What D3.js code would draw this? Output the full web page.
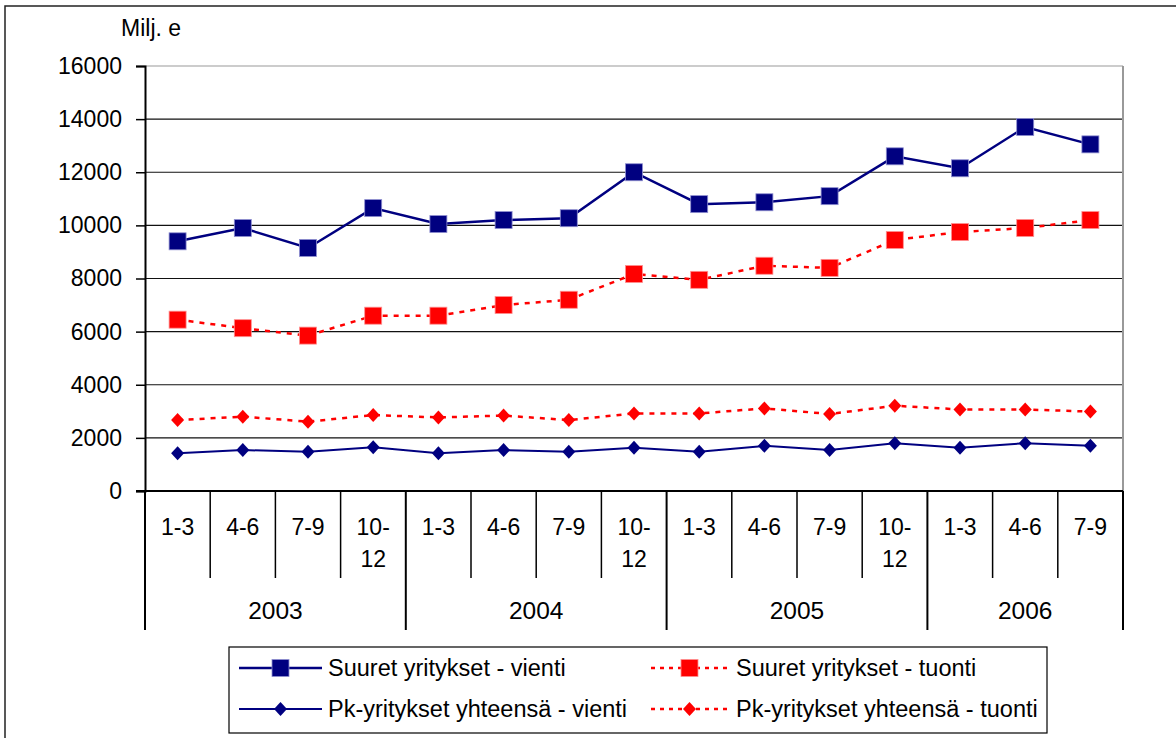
<!DOCTYPE html>
<html><head><meta charset="utf-8">
<script src="https://cdn.jsdelivr.net/npm/d3@7"></script>
<style>
html,body{margin:0;padding:0;background:#fff;}
svg{display:block;font-family:"Liberation Sans",Arial,sans-serif;}
</style></head>
<body><svg id="c" width="1176" height="738"></svg>
<script>
const years = ["2003","2004","2005","2006"];
const quarters = ["1-3","4-6","7-9","10-12","1-3","4-6","7-9","10-12","1-3","4-6","7-9","10-12","1-3","4-6","7-9"];
const quarterYear = [0,0,0,0,1,1,1,1,2,2,2,2,3,3,3];
const suuretVienti = [9400,9900,9150,10650,10050,10200,10270,12000,10800,10870,11100,12600,12150,13700,13050];
const suuretTuonti = [6450,6130,5850,6600,6600,7000,7200,8170,7950,8480,8400,9450,9750,9900,10200];
const pkVienti = [1420,1540,1480,1650,1420,1540,1480,1630,1480,1700,1540,1800,1630,1800,1700];
const pkTuonti = [2670,2800,2610,2860,2770,2840,2670,2920,2920,3110,2900,3210,3070,3070,2990];
const yTicks = [0,2000,4000,6000,8000,10000,12000,14000,16000];
const seriesNames = ["Suuret yritykset - vienti","Suuret yritykset - tuonti","Pk-yritykset yhteensä - vienti","Pk-yritykset yhteensä - tuonti"];

const svg = d3.select("#c");
const L=145, R=1123, T=66, B=491;
const idx = d3.range(quarters.length);
const x = d3.scaleBand().domain(idx).range([L,R]).padding(0);
const y = d3.scaleLinear().domain([0,16000]).range([B,T]);
const NAVY="#000080", RED="#FF0000";
const FS=23, FS_YEAR=24.5, FS_LEG=23.5;

// outer frame
svg.append("rect").attr("x",5).attr("y",6).attr("width",1180).attr("height",740)
  .attr("fill","none").attr("stroke","#222").attr("stroke-width",1.5);

// gridlines
svg.append("g").selectAll("line").data(yTicks.filter(d=>d>0)).join("line")
  .attr("x1",L).attr("x2",R).attr("y1",d=>y(d)).attr("y2",d=>y(d))
  .attr("stroke",d=>d===16000?"#999":"#111").attr("stroke-width",1.2);
// right border
svg.append("line").attr("x1",R).attr("x2",R).attr("y1",T).attr("y2",B).attr("stroke","#999").attr("stroke-width",2);

// y axis
const yAxis = d3.axisLeft(y).tickValues(yTicks).tickSize(9).tickPadding(14).tickFormat(d3.format("d"));
const ya = svg.append("g").attr("transform",`translate(${L},0)`).call(yAxis);
ya.select(".domain").attr("stroke","#000").attr("stroke-width",2);
ya.selectAll(".tick line").attr("stroke","#000").attr("stroke-width",1.5);
ya.selectAll("text").attr("font-size",FS).attr("fill","#000").attr("font-family","Liberation Sans, Arial, sans-serif");

svg.append("text").attr("x",121).attr("y",36).attr("font-size",FS).text("Milj. e");

// x axis baseline
svg.append("line").attr("x1",L-9).attr("x2",R).attr("y1",B).attr("y2",B).attr("stroke","#000").attr("stroke-width",2);
// quarter separators
const gx = svg.append("g");
idx.forEach(i=>{
  const xb = x(i);
  const yearStart = i===0 || quarterYear[i]!==quarterYear[i-1];
  gx.append("line").attr("x1",xb).attr("x2",xb).attr("y1",B).attr("y2",yearStart?630:578)
    .attr("stroke","#000").attr("stroke-width",yearStart?2:1.5);
});
gx.append("line").attr("x1",R).attr("x2",R).attr("y1",B).attr("y2",630).attr("stroke","#000").attr("stroke-width",2);
// quarter labels
idx.forEach(i=>{
  const cx = x(i)+x.bandwidth()/2;
  const q = quarters[i];
  if(q==="10-12"){
    gx.append("text").attr("x",cx).attr("y",535).attr("text-anchor","middle").attr("font-size",FS).text("10-");
    gx.append("text").attr("x",cx).attr("y",567).attr("text-anchor","middle").attr("font-size",FS).text("12");
  } else {
    gx.append("text").attr("x",cx).attr("y",535).attr("text-anchor","middle").attr("font-size",FS).text(q);
  }
});
// year labels
years.forEach((yr,k)=>{
  const members = idx.filter(i=>quarterYear[i]===k);
  const x0 = x(members[0]), x1 = x(members[members.length-1])+x.bandwidth();
  gx.append("text").attr("x",(x0+x1)/2).attr("y",619).attr("text-anchor","middle").attr("font-size",FS_YEAR).text(yr);
});

// series
const line = d3.line().x((d,i)=>x(i)+x.bandwidth()/2).y(d=>y(d));
const defs = [
  {data:suuretVienti,color:NAVY,dash:null,sym:"square",w:2.5},
  {data:suuretTuonti,color:RED,dash:"5,6",sym:"square",w:2.5},
  {data:pkVienti,color:NAVY,dash:null,sym:"diamond",w:2},
  {data:pkTuonti,color:RED,dash:"5,6",sym:"diamond",w:2.5}
];
function drawSym(g,sym,cx,cy,color){
  if(sym==="square"){
    g.append("rect").attr("x",cx-8.5).attr("y",cy-8.5).attr("width",17).attr("height",17)
      .attr("fill",color).attr("stroke",color===NAVY?"#8f8fd0":"#ff9090").attr("stroke-width",0.8);
  } else {
    g.append("path").attr("d",`M${cx},${cy-7}L${cx+6.5},${cy}L${cx},${cy+7}L${cx-6.5},${cy}Z`).attr("fill",color);
  }
}
defs.slice().reverse().forEach(s=>{
  const g = svg.append("g");
  g.append("path").datum(s.data).attr("d",line).attr("fill","none").attr("stroke",s.color)
    .attr("stroke-width",s.w).attr("stroke-dasharray",s.dash);
  s.data.forEach((v,i)=>drawSym(g,s.sym,x(i)+x.bandwidth()/2,y(v),s.color));
});

// legend
const lg = svg.append("g");
lg.append("rect").attr("x",229).attr("y",647).attr("width",818).attr("height",86).attr("fill","#fff").attr("stroke","#000").attr("stroke-width",1.2);
const legPos = [[239,322,668,328],[651,728,668,736],[239,322,709,328],[651,728,709,736]];
defs.forEach((s,k)=>{
  const [a,b,cy,tx] = legPos[k];
  lg.append("line").attr("x1",a).attr("x2",b).attr("y1",cy).attr("y2",cy).attr("stroke",s.color)
    .attr("stroke-width",s.w).attr("stroke-dasharray",s.dash?"4,5":null);
  drawSym(lg,s.sym,(a+b)/2,cy,s.color);
  lg.append("text").attr("x",tx).attr("y",cy+8).attr("font-size",FS_LEG).text(seriesNames[k]);
});
</script></body></html>
